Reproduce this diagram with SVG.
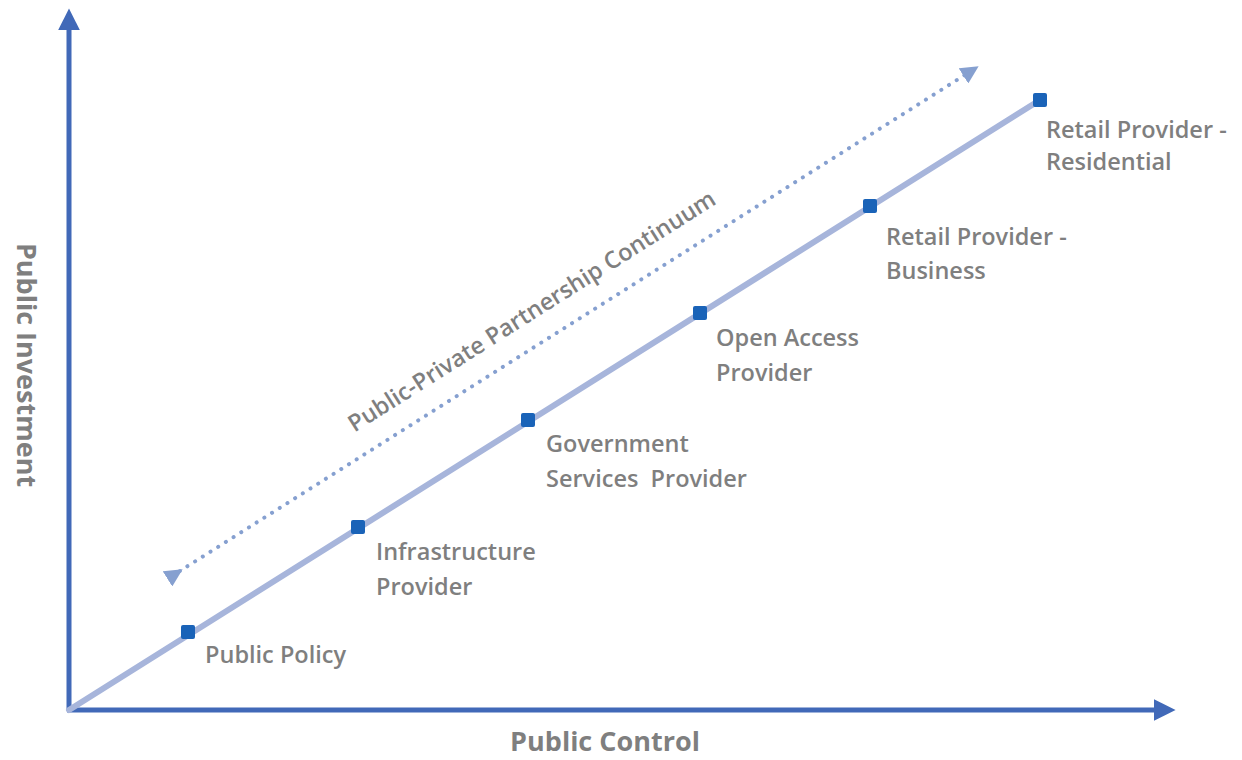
<svg xmlns="http://www.w3.org/2000/svg" width="1242" height="760" viewBox="0 0 1242 760">
  <style>
    .axis { stroke: #4169b8; stroke-width: 5; fill: none; }
    .trend { stroke: #a7b5db; stroke-width: 6; fill: none; stroke-linecap: round; }
    .continuum { stroke: #86a0d0; stroke-width: 4; fill: none; stroke-dasharray: 0.1 9; stroke-linecap: round; }
    .node { fill: #1a63b8; }
    .lbl { font-family: "Open Sans", "Liberation Sans", sans-serif; font-size: 23.5px; font-weight: 600; fill: #7f7f7f; }
    .axislbl { font-family: "Open Sans", "Liberation Sans", sans-serif; font-size: 27px; font-weight: 700; fill: #7f7f7f; }
  </style>
  <defs>
    <marker id="axisHead" viewBox="0 0 10 10" refX="2" refY="5" markerWidth="4.4" markerHeight="4.4" orient="auto" markerUnits="strokeWidth">
      <path d="M0,0 L10,5 L0,10 z" fill="#4169b8"/>
    </marker>
    <marker id="dotHead" viewBox="0 0 10 10" refX="3" refY="5" markerWidth="4.5" markerHeight="4.5" orient="auto" markerUnits="strokeWidth">
      <path d="M0,0 L10,5 L0,10 z" fill="#86a0d0"/>
    </marker>
  </defs>
  <rect width="1242" height="760" fill="#ffffff"/>

  <g id="connectors">
    <!-- axes -->
    <path class="axis" d="M69,710 L69,26" marker-end="url(#axisHead)"/>
    <path class="axis" d="M67,710 L1158,710" marker-end="url(#axisHead)"/>
    <!-- continuum trend line -->
    <path class="trend" d="M69,710 L1040,100"/>
    <!-- dotted double-headed continuum arrow -->
    <path class="continuum" d="M172,576 L968,73" marker-start="url(#dotHead)" marker-end="url(#dotHead)"/>
  </g>

  <g id="axis-labels">
    <text class="axislbl" x="605" y="751" text-anchor="middle">Public Control</text>
    <text class="axislbl" transform="translate(17,365) rotate(90)" text-anchor="middle">Public Investment</text>
  </g>

  <g id="continuum-label">
    <text class="lbl" transform="translate(536,318) rotate(-32.3)" text-anchor="middle" font-size="25.5">Public-Private Partnership Continuum</text>
  </g>

  <g id="node-public-policy">
    <rect class="node" x="181" y="625" width="14" height="14" rx="2"/>
    <text class="lbl" x="205" y="663">Public Policy</text>
  </g>
  <g id="node-infrastructure">
    <rect class="node" x="351" y="520" width="14" height="14" rx="2"/>
    <text class="lbl" x="376" y="560">Infrastructure</text>
    <text class="lbl" x="376" y="595">Provider</text>
  </g>
  <g id="node-government">
    <rect class="node" x="521" y="413" width="14" height="14" rx="2"/>
    <text class="lbl" x="546" y="452">Government</text>
    <text class="lbl" x="546" y="487" xml:space="preserve">Services  Provider</text>
  </g>
  <g id="node-open-access">
    <rect class="node" x="693" y="306" width="14" height="14" rx="2"/>
    <text class="lbl" x="716" y="346">Open Access</text>
    <text class="lbl" x="716" y="381">Provider</text>
  </g>
  <g id="node-retail-business">
    <rect class="node" x="863" y="199" width="14" height="14" rx="2"/>
    <text class="lbl" x="886" y="245">Retail Provider -</text>
    <text class="lbl" x="886" y="279">Business</text>
  </g>
  <g id="node-retail-residential">
    <rect class="node" x="1033" y="93" width="14" height="14" rx="2"/>
    <text class="lbl" x="1046" y="138">Retail Provider -</text>
    <text class="lbl" x="1046" y="170">Residential</text>
  </g>
</svg>
